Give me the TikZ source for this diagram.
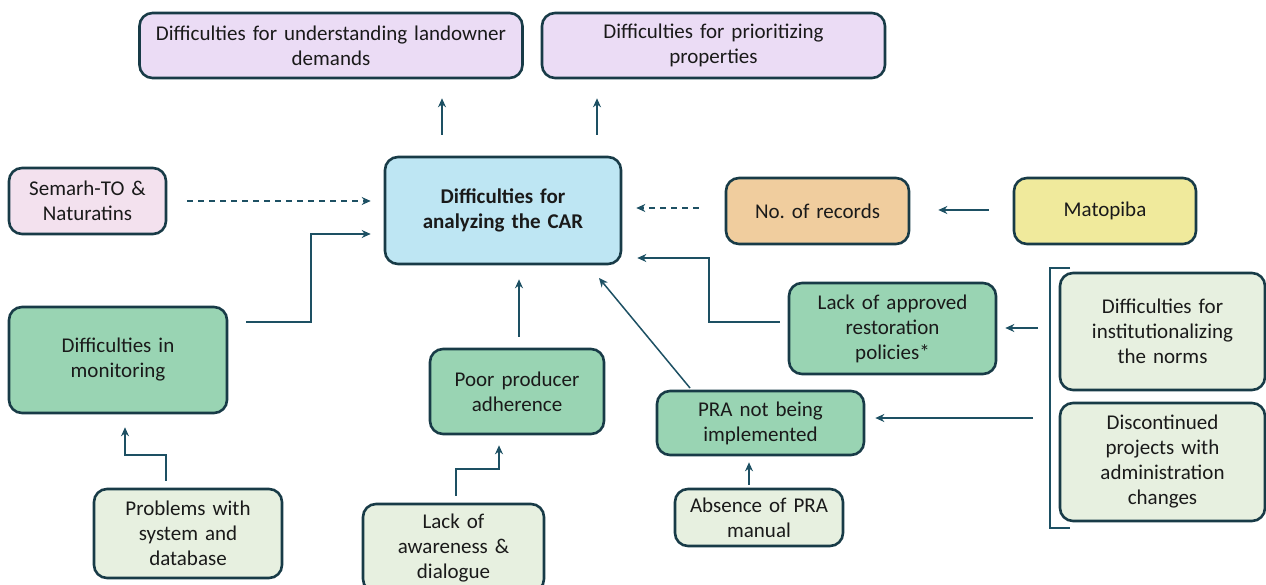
\documentclass[tikz,border=0pt]{standalone}
\usepackage{fontspec}
\setmainfont{Carlito}
\usetikzlibrary{arrows.meta,calc}
\definecolor{lineDark}{HTML}{183B47}
\definecolor{arrowTeal}{HTML}{1D5063}
\definecolor{fillLav}{HTML}{EBDCF5}
\definecolor{fillPink}{HTML}{F3E1EE}
\definecolor{fillBlue}{HTML}{BEE6F3}
\definecolor{fillOrange}{HTML}{F0CD9E}
\definecolor{fillYellow}{HTML}{F0EA9C}
\definecolor{fillGreen}{HTML}{99D4B3}
\definecolor{fillPale}{HTML}{E7F0E0}
\definecolor{txtDark}{HTML}{1A1A1A}
\frenchspacing

\begin{document}
\begin{tikzpicture}[x=1pt, y=-1pt,
  box/.style={draw=lineDark, line width=2.6pt, rounded corners=13pt, align=center,
    inner sep=3pt, text=txtDark, font=\fontsize{21}{25}\selectfont},
  arr/.style={draw=arrowTeal, line width=1.5pt, -{Stealth[length=9pt,width=8pt]}},
  dasharr/.style={arr, dash pattern=on 6pt off 5pt}]
  \useasboundingbox (0,0) rectangle (1266,585);

  %% Top effects
  \node[box, fill=fillLav, minimum width=383pt, minimum height=65pt, text width=370pt]
    (understand) at (331,45.5) {Difficulties for understanding landowner\\demands};
  \node[box, fill=fillLav, minimum width=343pt, minimum height=65pt, text width=330pt]
    (prioritize) at (713.5,45.5) {Difficulties for prioritizing\\properties};

  %% Central problem
  \node[box, fill=fillBlue, minimum width=236pt, minimum height=107pt, text width=224pt,
    font=\fontsize{21}{25}\selectfont\bfseries]
    (car) at (503,210.5) {Difficulties for\\analyzing the CAR};

  %% Row of direct causes
  \node[box, fill=fillPink, minimum width=157pt, minimum height=66pt, text width=145pt]
    (semarh) at (87.5,201) {Semarh-TO \&\\Naturatins};
  \node[box, fill=fillOrange, minimum width=183pt, minimum height=66pt, text width=170pt]
    (records) at (817.5,211) {No. of records};
  \node[box, fill=fillYellow, minimum width=182pt, minimum height=66pt, text width=170pt]
    (matopiba) at (1105,211) {Matopiba};
  \node[box, fill=fillGreen, minimum width=218pt, minimum height=106pt, text width=205pt]
    (monitor) at (118,360) {Difficulties in\\monitoring};
  \node[box, fill=fillGreen, minimum width=174pt, minimum height=85pt, text width=162pt]
    (adherence) at (517,391.5) {Poor producer\\adherence};
  \node[box, fill=fillGreen, minimum width=207pt, minimum height=91pt, text width=195pt]
    (policies) at (892.5,328.5) {Lack of approved\\restoration\\policies*};
  \node[box, fill=fillGreen, minimum width=207pt, minimum height=64pt, text width=195pt]
    (pra) at (760.5,423) {PRA not being\\implemented};

  %% Root causes
  \node[box, fill=fillPale, minimum width=205pt, minimum height=117pt, text width=193pt]
    (norms) at (1162.5,331.5) {Difficulties for\\institutionalizing\\the norms};
  \node[box, fill=fillPale, minimum width=205pt, minimum height=118pt, text width=193pt]
    (projects) at (1162.5,462) {Discontinued\\projects with\\administration\\changes};
  \node[box, fill=fillPale, minimum width=168pt, minimum height=57pt, text width=156pt]
    (manual) at (759,517.5) {Absence of PRA\\manual};
  \node[box, fill=fillPale, minimum width=188pt, minimum height=89pt, text width=176pt]
    (system) at (188,533.5) {Problems with\\system and\\database};
  \node[box, fill=fillPale, minimum width=181pt, minimum height=88pt, text width=169pt]
    (awareness) at (453.5,548) {Lack of\\awareness \&\\dialogue};

  %% Helper coordinates
  \coordinate (upA) at (442,0);
  \coordinate (upB) at (597,0);
  \coordinate (brTop) at (1050,268);
  \coordinate (brBot) at (1050,528);

  %% Effects of the central problem
  \draw[arr, shorten <=21pt, shorten >=19pt] (car.north -| upA) -- (understand.south -| upA);
  \draw[arr, shorten <=21pt, shorten >=19pt] (car.north -| upB) -- (prioritize.south -| upB);

  %% Causes into the central problem
  \draw[dasharr, shorten <=20pt, shorten >=13pt] (semarh.east) -- (semarh.east -| car.west);
  \draw[dasharr, shorten <=26pt, shorten >=14pt] ([yshift=3pt]records.west) -- ([yshift=3pt]records.west -| car.east);
  \draw[arr, shorten <=24pt, shorten >=28pt] ([yshift=1pt]matopiba.west) -- ([yshift=1pt]records.east);
  \draw[arr] ([xshift=18pt]monitor.east |- 0,322) -| (311,234) -- ([xshift=-13pt]car.west |- 0,234);
  \draw[arr] ([yshift=11pt]adherence.north -| 519,0) -- ([yshift=-14pt]car.south -| 519,0);
  \draw[arr] (690,388) -- (599,278);
  \draw[arr] ([xshift=-8pt]policies.west |- 0,322) -| (709,258) -- ([xshift=15pt]car.east |- 0,258);

  %% Lower links
  \draw[arr] ([yshift=7pt]system.north -| 166,0) |- (125,455) -- ([yshift=-13pt]monitor.south -| 125,0);
  \draw[arr] ([yshift=7pt]awareness.north -| 456,0) |- (499,469) -- ([yshift=-10pt]adherence.south -| 499,0);
  \draw[arr] ([yshift=3pt]manual.north -| 749,0) -- ([yshift=-6pt]pra.south -| 749,0);

  %% Bracket grouping the two root causes
  \draw[arrowTeal, line width=1.2pt] ([xshift=20pt]brTop) -- (brTop) -- (brBot) -- ([xshift=20pt]brBot);
  \draw[arr] (1038,328) -- ([xshift=8pt]policies.east |- 0,328);
  \draw[arr] (1033,418) -- ([xshift=10pt]pra.east |- 0,418);
\end{tikzpicture}
\end{document}
